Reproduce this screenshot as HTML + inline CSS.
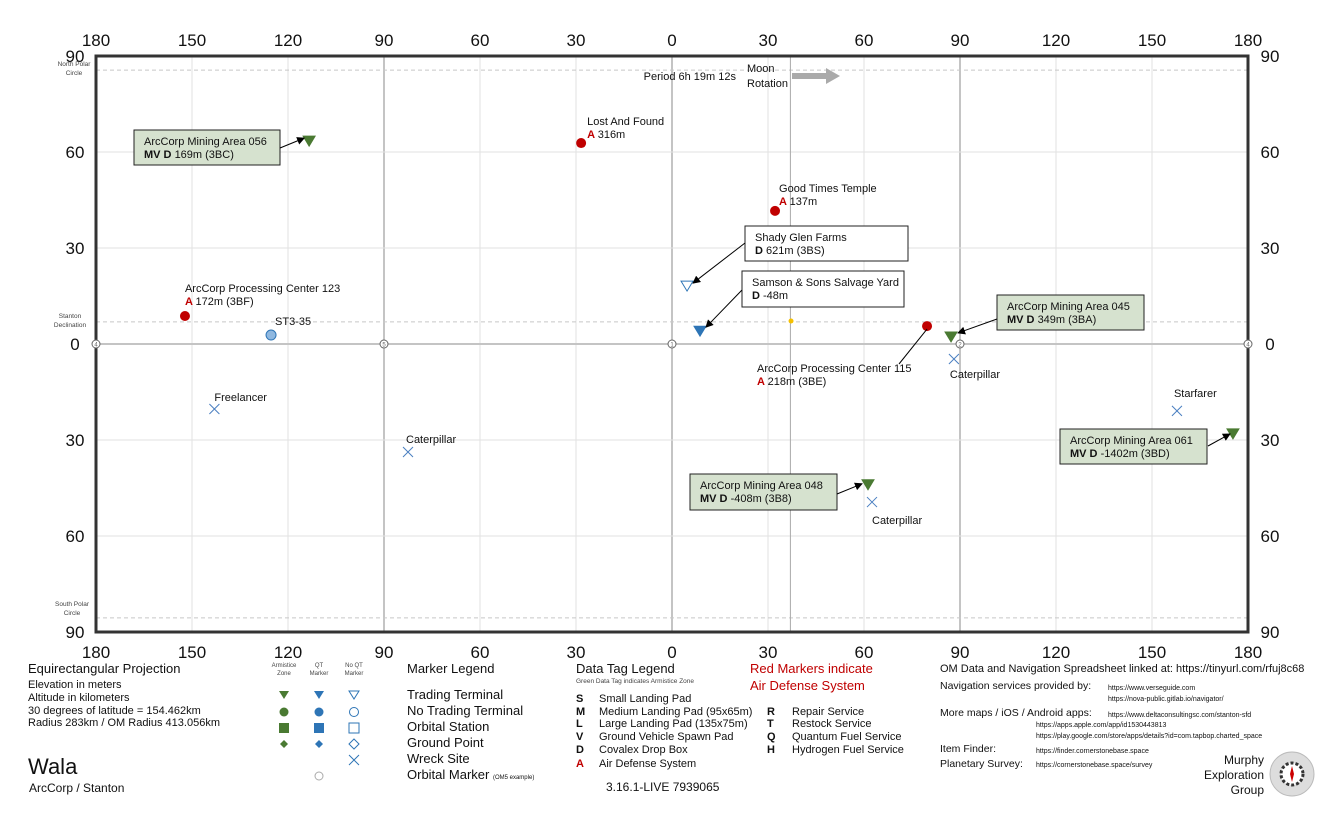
<!DOCTYPE html>
<html><head><meta charset="utf-8"><style>
html,body{margin:0;padding:0;background:#fff;}
svg{display:block;font-family:"Liberation Sans Narrow","Liberation Sans",sans-serif;}
.t{fill:#111;}
</style></head><body>
<svg id="c" width="1344" height="816" viewBox="0 0 1344 816" xmlns="http://www.w3.org/2000/svg">
<defs><marker id="ah" markerWidth="8" markerHeight="8" refX="7" refY="4" orient="auto"><path d="M0,0 L8,4 L0,8 z" fill="#000"/></marker></defs>
<g id="grid"></g>
<g id="axes"></g>
<g id="marks"></g>

<text x="74" y="66" font-size="6.5" text-anchor="middle" fill="#444">North Polar</text>
<text x="74" y="75" font-size="6.5" text-anchor="middle" fill="#444">Circle</text>
<text x="70" y="318" font-size="6.5" text-anchor="middle" fill="#444">Stanton</text>
<text x="70" y="327" font-size="6.5" text-anchor="middle" fill="#444">Declination</text>
<text x="72" y="606" font-size="6.5" text-anchor="middle" fill="#444">South Polar</text>
<text x="72" y="615" font-size="6.5" text-anchor="middle" fill="#444">Circle</text>

<text x="736" y="80" font-size="11" text-anchor="end" class="t">Period 6h 19m 12s</text>
<text x="747" y="72" font-size="11" class="t">Moon</text>
<text x="747" y="87" font-size="11" class="t">Rotation</text>
<path d="M792,73 L826,73 L826,68 L840,76 L826,84 L826,79 L792,79 z" fill="#aaa"/>

<g font-size="12" class="t">
<text x="28" y="673" font-size="13">Equirectangular  Projection</text>
<text x="28" y="688" font-size="11">Elevation in meters</text>
<text x="28" y="701" font-size="11">Altitude in kilometers</text>
<text x="28" y="714" font-size="11">30 degrees of latitude = 154.462km</text>
<text x="28" y="726" font-size="11">Radius 283km / OM Radius 413.056km</text>
<text x="28" y="774" font-size="22">Wala</text>
<text x="29" y="792" font-size="12">ArcCorp / Stanton</text>

<text x="284" y="667" font-size="6" text-anchor="middle" fill="#444">Armistice</text>
<text x="284" y="675" font-size="6" text-anchor="middle" fill="#444">Zone</text>
<text x="319" y="667" font-size="6" text-anchor="middle" fill="#444">QT</text>
<text x="319" y="675" font-size="6" text-anchor="middle" fill="#444">Marker</text>
<text x="354" y="667" font-size="6" text-anchor="middle" fill="#444">No QT</text>
<text x="354" y="675" font-size="6" text-anchor="middle" fill="#444">Marker</text>
<text x="407" y="673" font-size="13">Marker Legend</text>
<text x="407" y="699" font-size="13">Trading Terminal</text>
<text x="407" y="715" font-size="13">No Trading Terminal</text>
<text x="407" y="731" font-size="13">Orbital Station</text>
<text x="407" y="747" font-size="13">Ground Point</text>
<text x="407" y="763" font-size="13">Wreck Site</text>
<text x="407" y="779" font-size="13">Orbital Marker <tspan font-size="6">(OM5 example)</tspan></text>
<g>
<path d="M279,691 L289,691 L284,699 z" fill="#4a7a32"/><path d="M314,691 L324,691 L319,699 z" fill="#2e75b6"/><path d="M349,691 L359,691 L354,699 z" fill="none" stroke="#2e75b6"/>
<circle cx="284" cy="712" r="4.5" fill="#4a7a32"/><circle cx="319" cy="712" r="4.5" fill="#2e75b6"/><circle cx="354" cy="712" r="4.5" fill="none" stroke="#2e75b6"/>
<rect x="279" y="723" width="10" height="10" fill="#4a7a32"/><rect x="314" y="723" width="10" height="10" fill="#2e75b6"/><rect x="349" y="723" width="10" height="10" fill="none" stroke="#2e75b6"/>
<path d="M284,740 L288,744 L284,748 L280,744 z" fill="#4a7a32"/><path d="M319,740 L323,744 L319,748 L315,744 z" fill="#2e75b6"/><path d="M354,739 L359,744 L354,749 L349,744 z" fill="none" stroke="#2e75b6"/>
<path d="M349,755 L359,765 M359,755 L349,765" stroke="#2e75b6"/>
<circle cx="319" cy="776" r="4" fill="none" stroke="#aaa"/>
</g>

<text x="576" y="673" font-size="13">Data Tag Legend</text>
<text x="576" y="683" font-size="6.5" fill="#444">Green Data Tag indicates Armistice Zone</text>
<g font-size="11">
<text x="576" y="702" font-weight="bold">S</text><text x="599" y="702">Small Landing Pad</text>
<text x="576" y="715" font-weight="bold">M</text><text x="599" y="715">Medium Landing Pad (95x65m)</text>
<text x="576" y="727" font-weight="bold">L</text><text x="599" y="727">Large Landing Pad (135x75m)</text>
<text x="576" y="740" font-weight="bold">V</text><text x="599" y="740">Ground Vehicle Spawn Pad</text>
<text x="576" y="753" font-weight="bold">D</text><text x="599" y="753">Covalex Drop Box</text>
<text x="576" y="767" font-weight="bold" fill="#c00000">A</text><text x="599" y="767">Air Defense System</text>
<text x="767" y="715" font-weight="bold">R</text><text x="792" y="715">Repair Service</text>
<text x="767" y="727" font-weight="bold">T</text><text x="792" y="727">Restock Service</text>
<text x="767" y="740" font-weight="bold">Q</text><text x="792" y="740">Quantum Fuel Service</text>
<text x="767" y="753" font-weight="bold">H</text><text x="792" y="753">Hydrogen Fuel Service</text>
</g>
<text x="750" y="673" font-size="13" fill="#c00000">Red Markers indicate</text>
<text x="750" y="690" font-size="13" fill="#c00000">Air Defense System</text>
<text x="606" y="791" font-size="12">3.16.1-LIVE 7939065</text>

<text x="940" y="672" font-size="11">OM Data and Navigation Spreadsheet linked at: https://tinyurl.com/rfuj8c68</text>
<text x="940" y="689" font-size="10.5">Navigation services provided by:</text>
<text x="1108" y="690" font-size="7">https://www.verseguide.com</text>
<text x="1108" y="701" font-size="7">https://nova-public.gitlab.io/navigator/</text>
<text x="940" y="716" font-size="10.5">More maps / iOS / Android apps:</text>
<text x="1108" y="717" font-size="7">https://www.deltaconsultingsc.com/stanton-sfd</text>
<text x="1036" y="727" font-size="7">https://apps.apple.com/app/id1530443813</text>
<text x="1036" y="738" font-size="7">https://play.google.com/store/apps/details?id=com.tapbop.charted_space</text>
<text x="940" y="752" font-size="10.5">Item Finder:</text>
<text x="1036" y="753" font-size="7">https://finder.cornerstonebase.space</text>
<text x="940" y="767" font-size="10.5">Planetary Survey:</text>
<text x="1036" y="767" font-size="7">https://cornerstonebase.space/survey</text>
<text x="1264" y="764" font-size="12" text-anchor="end">Murphy</text>
<text x="1264" y="779" font-size="12" text-anchor="end">Exploration</text>
<text x="1264" y="794" font-size="12" text-anchor="end">Group</text>
<g>
<circle cx="1292" cy="774" r="22" fill="#ddd" stroke="#bbb"/>
<circle cx="1292" cy="774" r="11" fill="#fff" stroke="#333" stroke-width="3" stroke-dasharray="3 2"/>
<path d="M1292,766 L1294,774 L1292,782 L1290,774 z" fill="#c00"/>
</g>
</g>
</svg>
<script>
const lonTicks=[180,150,120,90,60,30,0,30,60,90,120,150,180];
const latTicks=[90,60,30,0,30,60,90];
const polarLat=85.6, declLat=6.9, moonRotLon=37;
const orbitalLons=[-180,-90,0,90,180];
const orbitalNums=["4","5","1","2","4"];
const names=["ArcCorp Mining Area 056","Lost And Found","Good Times Temple","Shady Glen Farms","Samson & Sons Salvage Yard","ArcCorp Processing Center 123","ST3-35","","ArcCorp Processing Center 115","ArcCorp Mining Area 045","Caterpillar","Freelancer","Caterpillar","Starfarer","ArcCorp Mining Area 061","ArcCorp Mining Area 048","Caterpillar"];
const lons=[-113.4,-28.4,32.2,4.7,8.75,-152.2,-125.3,37.2,79.7,87.2,88.1,-143,-82.5,157.8,175.3,61.25,62.5];
const lats=[63.4,62.8,41.6,18.1,4.0,8.75,2.8,7.2,5.6,2.2,-4.7,-20.3,-33.75,-20.9,-28.1,-44,-49.4];
const kinds=["gtri","red","red","otri","btri","red","orb","yel","red","gtri","x","x","x","x","gtri","gtri","x"];
const tags=["MV D|169m (3BC)","A|316m","A|137m","D|621m (3BS)","D|-48m","A|172m (3BF)","","","A|218m (3BE)","MV D|349m (3BA)","","","","","MV D|-1402m (3BD)","MV D|-408m (3B8)",""];

const L=96,T=56,W=1152,H=576;
const sx=lon=>L+(lon+180)/360*W;
const sy=lat=>T+(90-lat)/180*H;
const NS="http://www.w3.org/2000/svg";
function mk(tag,attrs,parent){const e=document.createElementNS(NS,tag);for(const k in attrs)e.setAttribute(k,attrs[k]);parent.appendChild(e);return e;}
const grid=document.getElementById('grid'),axes=document.getElementById('axes'),marks=document.getElementById('marks');

for(let lon=-150;lon<=150;lon+=30){
  const major=lon%90===0;
  const l=mk('line',{x1:sx(lon),x2:sx(lon),y1:T,y2:T+H,stroke:major?'#c4c4c4':'#e2e2e2','stroke-width':major?2:1},grid);
  
  
}
for(let lat=-60;lat<=60;lat+=30){
  const l=mk('line',{x1:L,x2:L+W,y1:sy(lat),y2:sy(lat),stroke:lat===0?'#c4c4c4':'#e2e2e2','stroke-width':lat===0?2:1},grid);
  
  
}
[polarLat,-polarLat,declLat].forEach(v=>{
  const l=mk('line',{x1:L,x2:L+W,y1:sy(v),y2:sy(v),stroke:'#c8c8c8','stroke-dasharray':'4 3'},grid);
  
  
});
{const l=mk('line',{x1:sx(moonRotLon),x2:sx(moonRotLon),y1:T,y2:T+H,stroke:'#aaa'},grid);

}
{const r=mk('rect',{x:L,y:T,width:W,height:H,fill:'none',stroke:'#333','stroke-width':3},axes);

}
lonTicks.forEach((v,i)=>{
  const x=L+i*W/(lonTicks.length-1);
  [40,652].forEach(y=>{const t=mk('text',{x:x,y:y+6,'font-size':17,'text-anchor':'middle',fill:'#111'},axes);t.textContent=v;
  
  });
});
latTicks.forEach((v,i)=>{
  const y=T+i*H/(latTicks.length-1);
  [75,1270].forEach(x=>{const t=mk('text',{x:x,y:y+6,'font-size':17,'text-anchor':'middle',fill:'#111'},axes);t.textContent=v;
  
  });
});
orbitalLons.forEach((lon,i)=>{
  const g=mk('g',{},marks);
  
  
  mk('circle',{cx:sx(lon),cy:sy(0),r:4,fill:'#fff',stroke:'#666'},g);
  const t=mk('text',{x:sx(lon),y:sy(0)+2.5,'font-size':6,'text-anchor':'middle',fill:'#666'},g);t.textContent=orbitalNums[i];
});

const lab=[
 {box:[134,130,146,35],green:1,arrow:[280,148,-5,-3]},
 {dx:6,dy:-18},{dx:4,dy:-19},
 {box:[745,226,163,35],arrow:[745,243,6,-3]},
 {box:[742,271,162,36],arrow:[742,290,6,-4]},
 {dx:0,dy:-24},{dx:4,dy:-10},{},
 {dx:-170,dy:46,line:[899,364]},
 {box:[997,295,147,35],green:1,arrow:[997,319,7,-4]},
 {dx:-4,dy:19},{dx:0,dy:-8},{dx:-2,dy:-9},{dx:-3,dy:-14},
 {box:[1060,429,147,35],green:1,arrow:[1208,446,-3,0]},
 {box:[690,474,147,36],green:1,arrow:[837,494,-6,-1]},
 {dx:0,dy:22}
];
names.forEach((nm,i)=>{
  const x=sx(lons[i]),y=sy(lats[i]),k=kinds[i];
  const g=mk('g',{},marks);
  
  
  if(k==='gtri'||k==='btri'||k==='otri'){
    const c=k==='gtri'?'#4a7a32':'#2e75b6';
    mk('path',{d:`M${x-6},${y-5} L${x+6},${y-5} L${x},${y+5} z`,fill:k==='otri'?'#fff':c,stroke:c},g);
  } else if(k==='red') mk('circle',{cx:x,cy:y,r:5,fill:'#c00000'},g);
  else if(k==='yel') mk('circle',{cx:x,cy:y,r:2.5,fill:'#f5c000'},g);
  else if(k==='orb') mk('circle',{cx:x,cy:y,r:5,fill:'#8fb8e0',stroke:'#2e75b6'},g);
  else if(k==='x') mk('path',{d:`M${x-5},${y-5} L${x+5},${y+5} M${x+5},${y-5} L${x-5},${y+5}`,stroke:'#4a7fc1','stroke-width':1},g);
  const o=lab[i]; if(!nm) return;
  const parts=tags[i]?tags[i].split('|'):null;
  if(o.box){
    const [bx,by,bw,bh]=o.box;
    mk('rect',{x:bx,y:by,width:bw,height:bh,fill:o.green?'#d6e2cf':'#fff',stroke:'#222'},g);
    let t=mk('text',{x:bx+10,y:by+15,'font-size':11,fill:'#111'},g);t.textContent=nm;
    t=mk('text',{x:bx+10,y:by+28,'font-size':11,fill:'#111'},g);
    const b=mk('tspan',{'font-weight':'bold'},t);b.textContent=parts[0]+' ';
    const r=mk('tspan',{},t);r.textContent=parts[1];
    const a=o.arrow;
    mk('line',{x1:a[0],y1:a[1],x2:x+a[2],y2:y+a[3],stroke:'#000','marker-end':'url(#ah)'},g);
  } else {
    const lx=x+o.dx, ly=y+o.dy;
    let t=mk('text',{x:lx,y:ly,'font-size':11,fill:'#111'},g);t.textContent=nm;
    if(parts){
      t=mk('text',{x:lx,y:ly+13,'font-size':11,fill:'#111'},g);
      const b=mk('tspan',{'font-weight':'bold',fill:'#c00000'},t);b.textContent=parts[0]+' ';
      const r=mk('tspan',{},t);r.textContent=parts[1];
    }
    if(o.line) mk('line',{x1:o.line[0],y1:o.line[1],x2:x,y2:y+3,stroke:'#000'},g);
  }
});
</script>
</body></html>
